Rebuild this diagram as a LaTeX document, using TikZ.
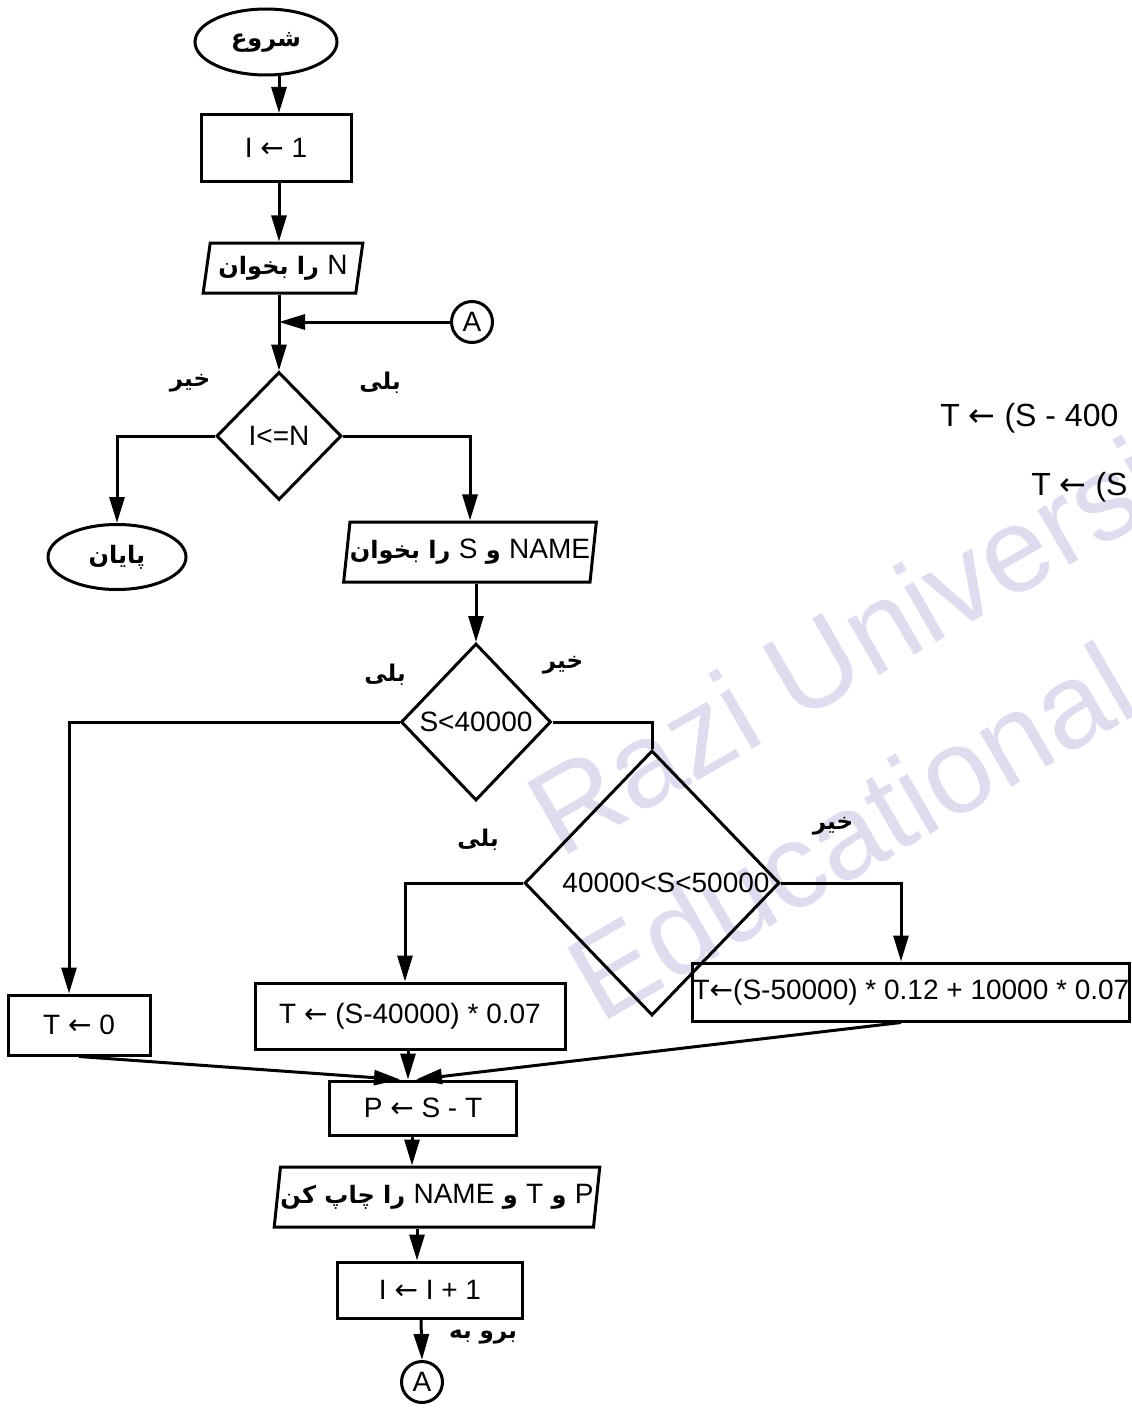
\documentclass[tikz,border=0pt]{standalone}
\usepackage{fontspec}
\setmainfont{Liberation Sans}
\newfontfamily\fafont[Script=Arabic]{DejaVu Sans}
\newfontfamily\symfont{DejaVu Sans}
\TeXXeTstate=1
\usetikzlibrary{shapes.geometric,arrows.meta,calc}
\newcommand\larr{{\symfont ←}}
\newcommand\latw[1]{\beginL{\normalfont\fontsize{14}{16}\selectfont #1}\endL{}}
\newcommand\fatxt[1]{{\fafont\bfseries\beginR #1\endR}}
\begin{document}
\begin{tikzpicture}[x=0.5pt,y=-0.5pt,
  every node/.style={font=\fontsize{14}{16}\selectfont},
  ln/.style={line width=1.5pt},
  arr/.style={ln,-{Triangle[length=13pt,width=7.5pt]}},
  box/.style={draw,line width=1.5pt,rectangle,inner sep=0pt},
  term/.style={draw,line width=1.5pt,ellipse,inner sep=0pt},
  io/.style={draw,line width=1.5pt,trapezium,trapezium left angle=76,trapezium right angle=104,trapezium stretches=true,inner sep=0pt},
  dec/.style={draw,line width=1.5pt,diamond,inner sep=0pt},
  conn/.style={draw,line width=1.5pt,circle,inner sep=0pt,minimum size=20.5pt},
  lbl/.style={font=\fontsize{11.5}{14}\selectfont,inner sep=1pt},
  fa/.style={font=\fontsize{12}{15}\selectfont},
  wm/.style={text={rgb,255:red,221;green,221;blue,239},font=\fontsize{60}{68}\selectfont,inner sep=0pt,rotate=30,anchor=base west}]
\useasboundingbox[fill=white] (0,0) rectangle (1131,1413);

% watermark
\node[wm] (wm1) at (560,860) {Razi University};
\node[wm] (wm2) at (600,1025) {Educational};

% text of the next page, cut by the edge
\node[anchor=west,font=\fontsize{16}{18}\selectfont,inner sep=0pt] (rt1) at (940,418) {T \larr{} (S - 400};
\node[anchor=west,font=\fontsize{16}{18}\selectfont,inner sep=0pt] (rt2) at (1031,487) {T \larr{} (S};

% nodes
\node[term,fa,minimum width=71pt,minimum height=33pt] (start) at (266,42) {\fatxt{شروع}};
\node[box,minimum width=75pt,minimum height=33.5pt] (b1) at (276,148) {I \larr{} 1};
\node[io,fa,minimum width=80pt,minimum height=25pt] (rn) at (283,268) {\fatxt{\latw{N} را بخوان}};
\node[conn] (A1) at (472,322) {A};
\node[dec,minimum width=62.5pt,minimum height=64pt] (d1) at (279,436) {I<=N};
\node[term,fa,minimum width=69pt,minimum height=32.5pt] (fin) at (117,557) {\fatxt{پایان}};
\node[io,fa,minimum width=126pt,minimum height=30pt] (rns) at (470,552) {\fatxt{\latw{NAME} و \latw{S} را بخوان}};
\node[dec,minimum width=75pt,minimum height=78.5pt] (d2) at (476,722) {S<40000};
\node[dec,minimum width=123.5pt,minimum height=132.5pt] (d3) at (652,883) {\hspace{14pt}40000<S<50000};
\node[box,minimum width=71pt,minimum height=30pt] (T0) at (79,1025) {T \larr{} 0};
\node[box,minimum width=155pt,minimum height=33pt] (T1) at (410,1016) {T \larr{} (S-40000) * 0.07};
\node[box,minimum width=208.5pt,minimum height=29pt] (T2) at (911,992) {T\larr(S-50000) * 0.12 + 10000 * 0.07};
\node[box,minimum width=93.5pt,minimum height=27pt] (P) at (423,1108) {P \larr{} S - T};
\node[io,fa,minimum width=161.5pt,minimum height=30pt] (pr) at (437,1197) {\fatxt{\latw{P} و \latw{T} و \latw{NAME} را چاپ کن}};
\node[box,minimum width=92.5pt,minimum height=28pt] (inc) at (430,1290) {I \larr{} I + 1};
\node[conn] (A2) at (422,1382) {A};

% labels
\node[lbl] (l1) at (190,383) {\fatxt{خیر}};
\node[lbl] (l2) at (380,383) {\fatxt{بلی}};
\node[lbl] (l3) at (385,675) {\fatxt{بلی}};
\node[lbl] (l4) at (563,665) {\fatxt{خیر}};
\node[lbl] (l5) at (478,840) {\fatxt{بلی}};
\node[lbl] (l6) at (833,826) {\fatxt{خیر}};
\node[lbl] (l7) at (483,1337) {\fatxt{برو به}};

% helper coordinates
\coordinate (colx) at (279,0);
\coordinate (t0x) at (69,0);
\coordinate (t1x) at (405,0);
\coordinate (t2x) at (901,0);
\coordinate (px2) at (412,0);
\coordinate (px3) at (417,0);
\coordinate (px4) at (421,0);
\path (P.north) ++(-23,0) coordinate (pa) ++(8,0) coordinate (pb) ++(8,0) coordinate (pc);

% connectors
\draw[arr] (start.south -| colx) -- (b1.north -| colx);
\draw[arr] (b1.south -| colx) -- (rn.north -| colx);
\draw[arr] (rn.south -| colx) -- (d1.north);
\draw[arr] (A1.west) -- (A1.west -| colx);
\draw[arr] (d1.west) -| (fin.north);
\draw[arr] (d1.east) -| (rns.north);
\draw[arr] (rns.south -| d2.north) -- (d2.north);
\draw[arr] (d2.west) -| (t0x |- T0.north);
\draw[ln] (d2.east) -| (d3.north);
\draw[arr] (d3.west) -| (t1x |- T1.north);
\draw[arr] (d3.east) -| (t2x |- T2.north);
\draw[arr] (T0.south) -- (pa);
\draw[arr] (T1.south -| pb) -- (pb);
\draw[arr] (T2.south -| t2x) -- (pc);
\draw[arr] (P.south -| px2) -- (pr.north -| px2);
\draw[arr] (pr.south -| px3) -- (inc.north -| px3);
\draw[arr] (inc.south -| px4) -- (A2.north);
\end{tikzpicture}
\end{document}
